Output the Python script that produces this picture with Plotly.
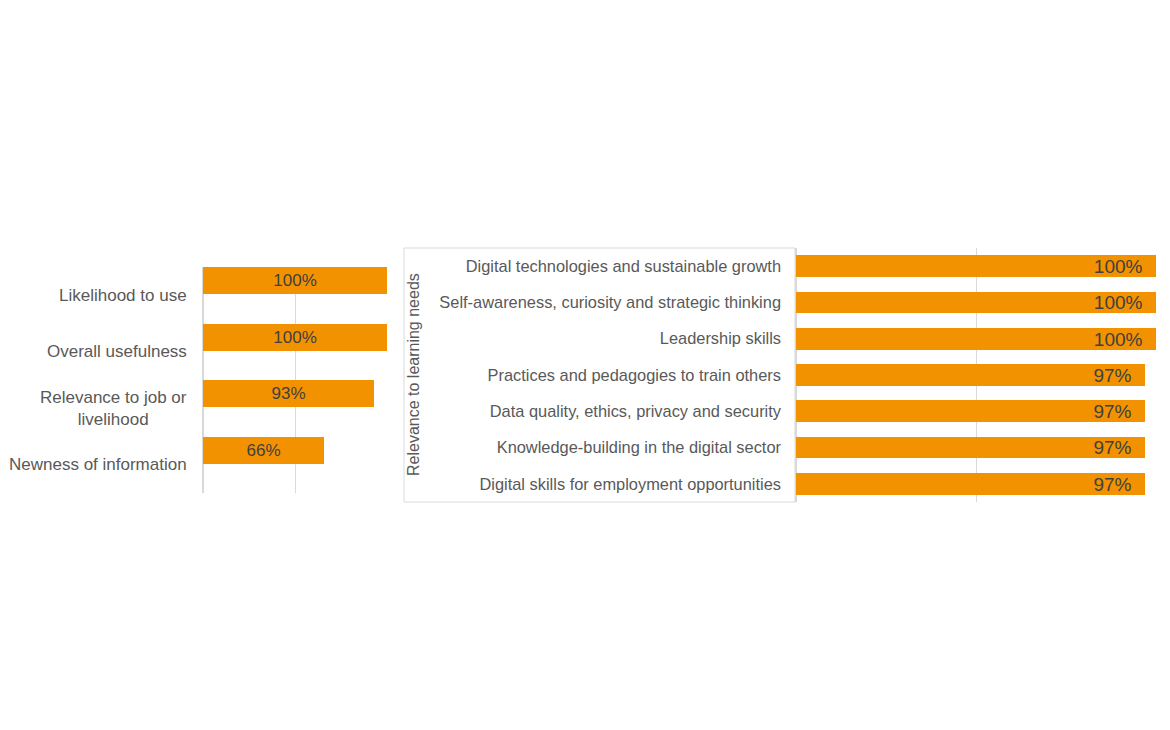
import plotly.graph_objects as go

# left panel
left_cats = ["Likelihood to use", "Overall usefulness", "Relevance to job or<br>livelihood",
             "Newness of information"]
left_vals = [100, 100, 93, 66]

# right panel
right_cats = ["Digital technologies and sustainable growth",
              "Self-awareness, curiosity and strategic thinking",
              "Leadership skills",
              "Practices and pedagogies to train others",
              "Data quality, ethics, privacy and security",
              "Knowledge-building in the digital sector",
              "Digital skills for employment opportunities"]
right_vals = [100, 100, 100, 97, 97, 97, 97]
right_group = "Relevance to learning needs"

ORANGE = "#F39200"
GREY = "#595959"
GRID = "#D9D9D9"
FONT = "Liberation Sans, Arial, sans-serif"
W, H = 1170, 730
OFF = 8  # page body margin


def px(x):
    return (x - OFF) / W


def py(y):
    return 1 - (y - OFF) / H


fig = go.Figure()
fig.add_trace(go.Bar(
    x=left_vals, y=left_cats, orientation="h", xaxis="x", yaxis="y",
    marker=dict(color=ORANGE, line=dict(width=0)),
    width=0.48, offset=-0.5,
    text=[f"{v}%" for v in left_vals], textposition="inside",
    insidetextanchor="middle", textangle=0, constraintext="none",
    textfont=dict(size=17, color="#404040", family=FONT),
    showlegend=False, hoverinfo="skip"))
fig.add_trace(go.Bar(
    x=right_vals, y=right_cats, orientation="h", xaxis="x2", yaxis="y2",
    marker=dict(color=ORANGE, line=dict(width=0)),
    width=0.6,
    text=[f"{v}%\u00a0\u00a0" for v in right_vals], textposition="inside",
    insidetextanchor="end", textangle=0, constraintext="none",
    textfont=dict(size=19, color="#404040", family=FONT),
    showlegend=False, hoverinfo="skip"))

fig.update_layout(
    width=W, height=H, margin=dict(l=0, r=0, t=0, b=0),
    paper_bgcolor="white", plot_bgcolor="white",
    font=dict(family=FONT, color=GREY),
    xaxis=dict(domain=[px(203), px(387)], range=[0, 100], showticklabels=False,
               showgrid=True, gridcolor=GRID, zeroline=True, zerolinecolor=GRID,
               dtick=50, anchor="y"),
    yaxis=dict(domain=[py(493), py(267)], range=[3.5, -0.5],
               showticklabels=False, showgrid=False, anchor="x"),
    xaxis2=dict(domain=[px(796), px(1156)], range=[0, 100], showticklabels=False,
                showgrid=True, gridcolor=GRID, zeroline=True, zerolinecolor=GRID,
                dtick=50, anchor="y2"),
    yaxis2=dict(domain=[py(502), py(248)], range=[6.5, -0.5],
                tickfont=dict(size=16.4, color=GREY), ticklabelstandoff=14,
                showgrid=False, anchor="x2"),
    bargap=0,
)

# left category labels, centred lines like the original
for c in left_cats:
    fig.add_annotation(text=c, xref="x domain", yref="y", x=0, y=c,
                       xanchor="right", yanchor="middle", xshift=-14,
                       align="center", showarrow=False,
                       font=dict(size=17, color=GREY, family=FONT))

# group box of the multi-level category axis
fig.add_shape(type="rect", xref="paper", yref="paper",
              x0=px(404), x1=px(795), y0=py(502), y1=py(248),
              line=dict(color=GRID, width=1), fillcolor="rgba(0,0,0,0)")
fig.add_annotation(text=right_group, xref="paper", yref="paper",
                   x=px(413), y=py(375), textangle=-90, showarrow=False,
                   font=dict(size=16, color=GREY, family=FONT))

fig.write_html("out.html")
